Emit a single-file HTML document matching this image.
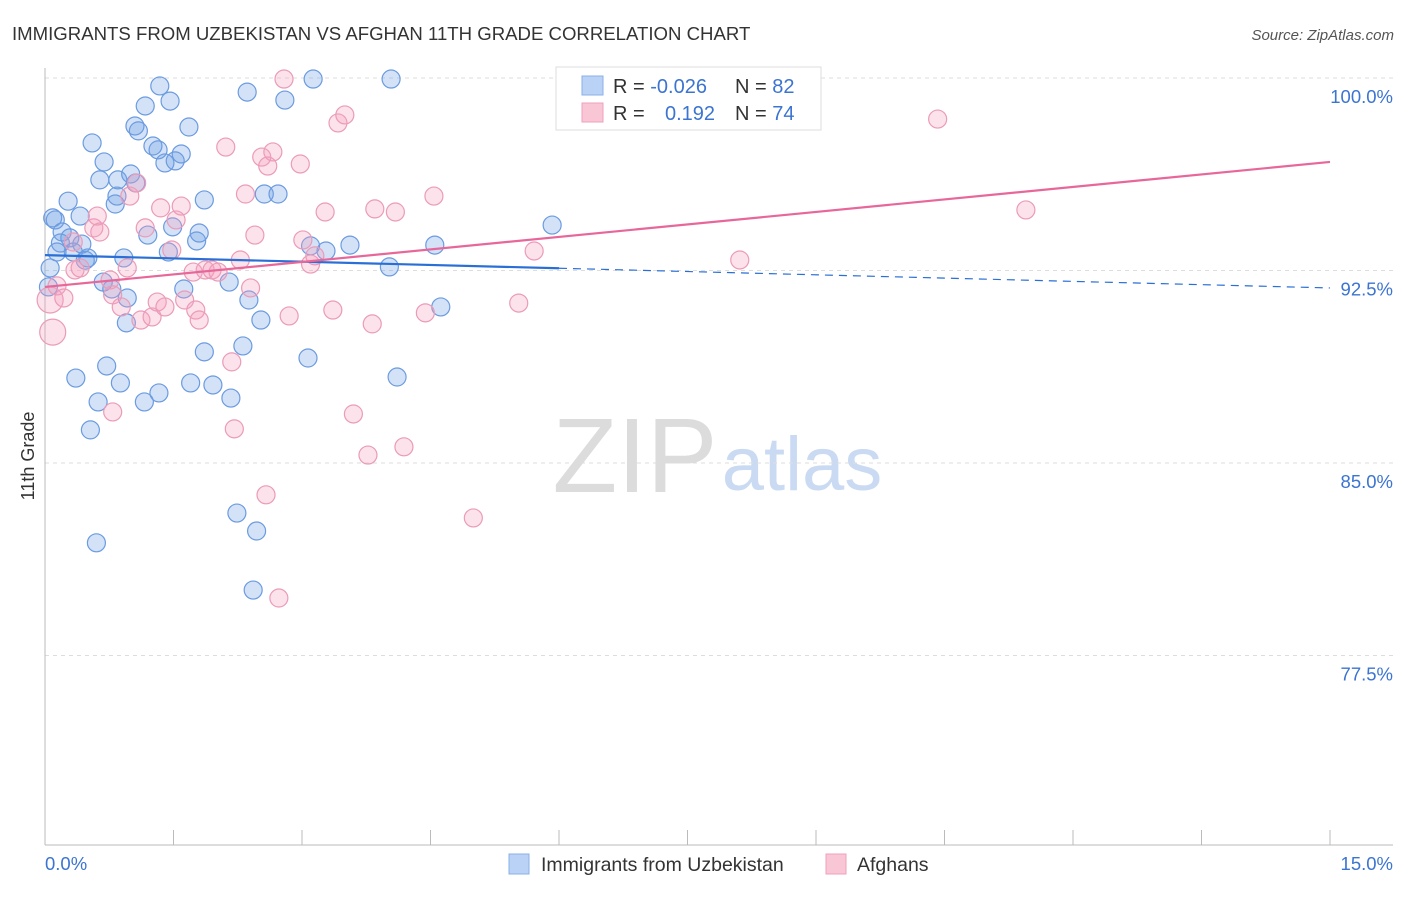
<!DOCTYPE html>
<html><head><meta charset="utf-8">
<style>
body{margin:0;background:#fff;font-family:"Liberation Sans",sans-serif;}
svg text{font-family:"Liberation Sans",sans-serif;}
</style></head>
<body>
<svg id="chart" width="1406" height="892" xmlns="http://www.w3.org/2000/svg">
<text x="12" y="40" font-size="18.6" fill="#333">IMMIGRANTS FROM UZBEKISTAN VS AFGHAN 11TH GRADE CORRELATION CHART</text>
<text x="1394" y="40" font-size="15" fill="#555" font-style="italic" text-anchor="end">Source: ZipAtlas.com</text>
<g>
<text x="635" y="492" font-size="106" fill="#dcdcdc" font-family="Liberation Serif,serif" text-anchor="middle">ZIP</text>
<text x="802" y="490" font-size="76" fill="#c9daf2" text-anchor="middle">atlas</text>
</g>
<g id="grid"></g>
<g id="axes"></g>
<g id="pts"></g>
<g id="trend"></g>
<g>
<rect x="556" y="67" width="265" height="63" fill="#fff" stroke="#ddd"/>
<rect x="582" y="76" width="21" height="19" fill="#b9d2f5" stroke="#8ab0e8"/>
<rect x="582" y="103" width="21" height="19" fill="#f9c6d6" stroke="#eea0bb"/>
<text x="613" y="93" font-size="20" fill="#333">R = <tspan fill="#3b74d1">-0.026</tspan></text>
<text x="735" y="93" font-size="20" fill="#333">N = <tspan fill="#3b74d1">82</tspan></text>
<text x="613" y="120" font-size="20" fill="#333">R = </text>
<text x="665" y="120" font-size="20" fill="#3b74d1">0.192</text>
<text x="735" y="120" font-size="20" fill="#333">N = <tspan fill="#3b74d1">74</tspan></text>
</g>
<g>
<rect x="509" y="854" width="20" height="20" fill="#b9d2f5" stroke="#8ab0e8"/>
<text x="541" y="871" font-size="19.5" fill="#333">Immigrants from Uzbekistan</text>
<rect x="826" y="854" width="20" height="20" fill="#f9c6d6" stroke="#eea0bb"/>
<text x="857" y="871" font-size="19.5" fill="#333">Afghans</text>
</g>
<text x="34" y="456" font-size="18" fill="#333" text-anchor="middle" transform="rotate(-90 34 456)">11th Grade</text>
</svg>
<script>
const yTicks=[100,92.5,85,77.5];
const yTickLabels=["100.0%","92.5%","85.0%","77.5%"];
const xTickLabels=["0.0%","15.0%"];
const blueX=[0.09,0.12,0.27,0.18,0.2,0.29,0.33,0.43,0.41,0.06,0.04,0.14,0.47,0.5,0.55,0.64,0.69,0.82,0.84,0.85,1.0,1.06,1.05,1.09,1.17,1.26,1.32,1.34,1.46,1.4,1.52,1.59,1.68,1.86,1.49,1.2,1.44,1.77,1.8,0.92,0.68,0.78,0.96,0.95,1.62,2.15,2.38,2.52,1.86,2.31,0.72,0.36,0.88,0.62,0.53,1.16,1.33,1.7,1.96,2.17,2.24,2.47,0.6,2.43,2.36,2.8,3.13,4.04,2.56,2.72,3.1,3.28,3.56,4.02,4.55,4.62,4.11,3.07,5.92];
const blueY=[94.55,94.47,95.2,93.57,94.0,93.77,93.22,93.53,94.62,92.6,91.86,93.22,92.9,92.99,97.47,96.03,96.73,95.09,95.4,96.03,96.26,95.91,98.13,97.94,98.91,97.35,97.2,99.69,99.1,96.69,96.77,97.04,98.09,95.25,94.2,93.88,93.22,93.65,93.96,92.99,92.05,91.78,91.43,90.46,91.78,92.05,91.35,90.57,89.33,89.56,88.78,88.31,88.12,87.38,86.29,87.38,87.73,88.12,88.04,87.53,83.05,82.35,81.89,80.05,99.45,99.14,99.96,99.96,95.48,95.48,93.46,93.26,93.49,92.64,93.49,91.08,88.35,89.09,94.27];
const pinkX=[0.06,0.09,0.14,0.22,0.33,0.35,0.41,0.57,0.64,0.61,0.76,0.79,0.89,0.96,0.99,1.07,1.17,1.12,1.25,1.31,1.4,1.35,1.48,1.53,1.59,1.63,1.73,1.76,1.8,1.87,1.95,2.02,2.11,2.18,2.21,2.28,2.34,2.45,2.4,2.53,2.6,2.66,2.58,2.73,2.79,2.98,2.85,3.01,3.1,3.15,3.27,3.36,3.42,3.5,3.6,3.77,3.82,3.85,4.09,4.19,4.44,4.54,5.0,5.53,5.71,6.87,8.11,8.78,10.42,11.45,0.79];
const pinkY=[91.35,90.1,91.9,91.43,93.61,92.52,92.6,94.16,94.0,94.62,92.13,91.55,91.08,92.6,95.4,95.91,94.16,90.57,90.69,91.27,91.08,94.94,93.3,94.47,95.01,91.35,92.44,90.96,90.57,92.52,92.52,92.44,97.31,88.94,86.33,92.91,95.48,93.88,91.82,96.92,96.57,97.12,83.76,79.74,99.96,96.65,90.73,93.69,92.75,93.07,94.78,90.96,98.25,98.56,86.91,85.31,90.42,94.9,94.78,85.63,90.85,95.4,82.86,91.23,93.26,99.96,92.91,99.96,98.4,94.86,86.99];
const blueTrend=[93.1,91.82];
const pinkTrend=[91.86,96.73];
const NS="http://www.w3.org/2000/svg";
const X0=45,X1=1330,Y100=78,PXPER=192.5/7.5;
function sx(v){return X0+v/15*(X1-X0);}
function sy(v){return Y100+(100-v)*PXPER;}
function mk(tag,attrs,parent){const e=document.createElementNS(NS,tag);for(const k in attrs)e.setAttribute(k,attrs[k]);parent.appendChild(e);return e;}
const grid=document.getElementById('grid'),axes=document.getElementById('axes'),pts=document.getElementById('pts'),trend=document.getElementById('trend');
yTicks.forEach((t,i)=>{
 const l=mk('line',{x1:X0,x2:1393,y1:sy(t),y2:sy(t),stroke:'#ddd','stroke-dasharray':'4,4'},grid);
 
 
 const tx=mk('text',{x:1393,y:sy(t)+25,'font-size':18.5,fill:'#3b74d1','text-anchor':'end'},axes);
 tx.textContent=yTickLabels[i];
 
 
});
const xa=mk('line',{x1:X0,x2:1393,y1:845,y2:845,stroke:'#bbb'},axes);


const ya=mk('line',{x1:X0,x2:X0,y1:68,y2:845,stroke:'#bbb'},axes);


for(let i=0;i<=10;i++){
 const t=mk('line',{x1:sx(i*1.5),x2:sx(i*1.5),y1:830,y2:845,stroke:'#bbb'},axes);
 
 
}
const xl0=mk('text',{x:45,y:870,'font-size':18.5,fill:'#3b74d1'},axes);
xl0.textContent=xTickLabels[0];


const xl1=mk('text',{x:1393,y:870,'font-size':18.5,fill:'#3b74d1','text-anchor':'end'},axes);
xl1.textContent=xTickLabels[1];


blueX.forEach((x,i)=>{
 const c=mk('circle',{cx:sx(x),cy:sy(blueY[i]),r:9,fill:'rgba(110,160,230,0.3)',stroke:'#6b9be0','stroke-width':1.2},pts);
 
 
});
pinkX.forEach((x,i)=>{
 const r=i<2?13:9;
 const c=mk('circle',{cx:sx(x),cy:sy(pinkY[i]),r:r,fill:'rgba(244,160,190,0.3)',stroke:'#eb9bb8','stroke-width':1.2},pts);
 
 
});
function ty(tr,x){return tr[0]+(tr[1]-tr[0])*x/15;}
const bl=mk('line',{x1:sx(0),y1:sy(ty(blueTrend,0)),x2:sx(6),y2:sy(ty(blueTrend,6)),stroke:'#2a6fd6','stroke-width':2.2},trend);


const bd=mk('line',{x1:sx(6),y1:sy(ty(blueTrend,6)),x2:sx(15),y2:sy(ty(blueTrend,15)),stroke:'#2a6fd6','stroke-width':1.2,'stroke-dasharray':'8,6'},trend);


const pl=mk('line',{x1:sx(0),y1:sy(ty(pinkTrend,0)),x2:sx(15),y2:sy(ty(pinkTrend,15)),stroke:'#e8679a','stroke-width':2.2},trend);


</script>
</body></html>
